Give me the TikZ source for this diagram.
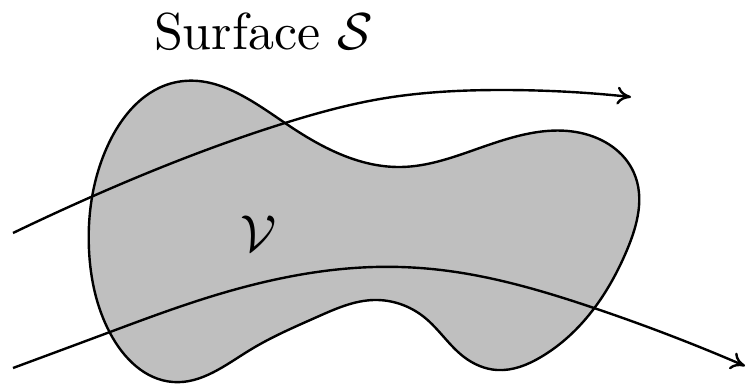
\documentclass[tikz,border=0pt]{standalone}
\usetikzlibrary{hobby,arrows.meta}
\begin{document}
\begin{tikzpicture}[x=1pt,y=-1pt,
  outline/.style={line width=2.4pt,draw=black,fill=black!25},
  flow/.style={line width=2.4pt,draw=black,-{To[length=14pt,width=18pt]}},
  label/.style={inner sep=0pt,scale=5.2,font=\fontsize{10}{12}\selectfont}]
\useasboundingbox (0,0) rectangle (747,387);
\draw[outline,use Hobby shortcut,closed=true]
  (177,82) .. (285,123) .. (401,167) .. (474,150) .. (581,133) .. (634,173)
  .. (627,250) .. (541,357) .. (497,370) .. (464,357) .. (424,317) .. (374,300)
  .. (317,317) .. (250,350) .. (173,382) .. (110,333) .. (89,250) .. (108,145);
\coordinate (a1) at (13,233);
\coordinate (a2) at (631,97);
\coordinate (b1) at (13,368);
\coordinate (b2) at (745,366);
\draw[flow,use Hobby shortcut] (a1) .. (91,197) .. (285,123) .. (380,99) .. (501,90) .. (a2);
\draw[flow,use Hobby shortcut] (b1) .. (110,332) .. (200,300) .. (374,267) .. (441,270) .. (591,307) .. (b2);
\node[label,anchor=base west] (surf) at (153,50) {Surface $\mathcal{S}$};
\node[label] (vol) at (259,234) {$\mathcal{V}$};
\end{tikzpicture}
\end{document}
